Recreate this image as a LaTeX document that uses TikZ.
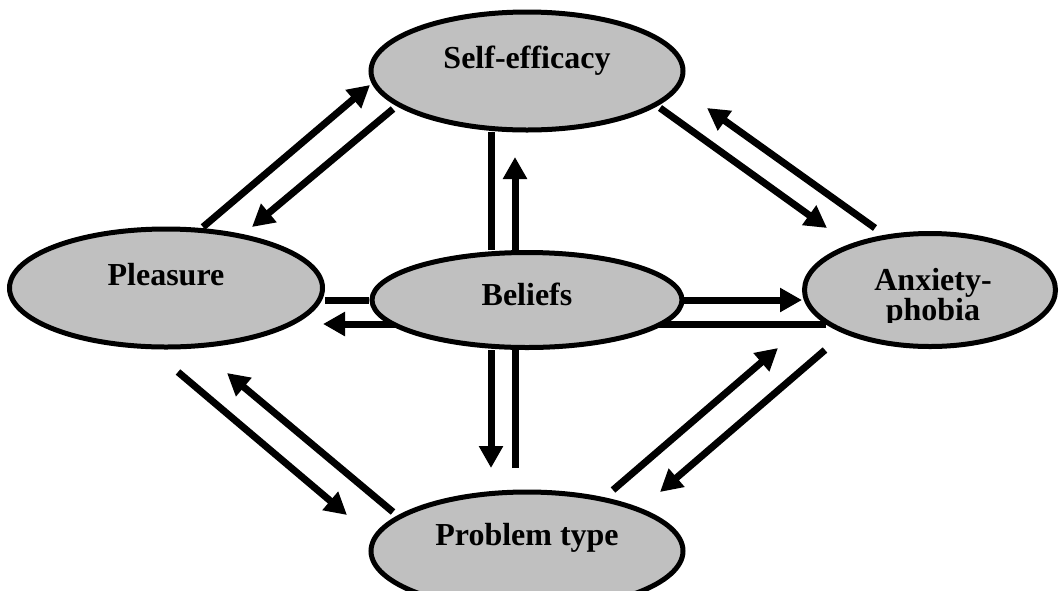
\documentclass[tikz,border=0pt]{standalone}
\usepackage{fontspec}
\setmainfont{Liberation Serif}
\usetikzlibrary{shapes.geometric,arrows.meta,calc}
\pgfdeclarelayer{bg}
\pgfsetlayers{bg,main}
\definecolor{ovalgray}{HTML}{C0C0C0}
\tikzset{
 oval/.style={ellipse, draw=black, line width=5pt, fill=ovalgray, inner sep=0pt},
 lbl/.style={font=\fontsize{32}{32}\selectfont\bfseries, inner sep=0pt, anchor=base},
 conn/.style={line width=7pt},
 arr/.style={conn, -{Triangle[width=23pt,length=22pt]}},
}
\begin{document}
\begin{tikzpicture}[x=1pt,y=-1pt]
\clip (0,0) rectangle (1060,590);
\node[oval, minimum width=312pt, minimum height=118pt] (se) at (527,71) {};
\node[oval, minimum width=313pt, minimum height=118pt] (pl) at (166,288) {};
\node[oval, minimum width=310pt, minimum height=95pt] (be) at (527,300) {};
\node[oval, minimum width=251pt, minimum height=113pt] (ax) at (930,290) {};
\node[oval, minimum width=312pt, minimum height=118pt] (pt) at (527,551) {};

\node[lbl] (seT) at ($(se.center)+(0,-3)$) {Self-efficacy};
\node[lbl] (plT) at ($(pl.center)+(0,-3)$) {Pleasure};
\node[lbl] (beT) at ($(be.center)+(0,5)$) {Beliefs};
\node[lbl] (ptT) at ($(pt.center)+(0,-6)$) {Problem type};
\begin{scope}
\clip (850,240) rectangle (1010,322);
\node[lbl] (axT1) at ($(ax.center)+(3,0)$) {Anxiety-};
\node[lbl] (axT2) at ($(ax.center)+(3,30)$) {phobia};
\end{scope}

\begin{pgfonlayer}{bg}
\draw[arr] ($(pl.center)+(37,-61)$) -- ($(se.center)+(-157,14)$);
\draw[arr] ($(se.center)+(-134,38)$) -- ($(pl.center)+(86,-61)$);
\draw[arr] ($(se.center)+(133,37)$) -- ($(ax.center)+(-103,-62)$);
\draw[arr] ($(ax.center)+(-55,-62)$) -- ($(se.center)+(180,37)$);
\draw[conn] ($(se.center)+(-36,61)$) -- ($(be.center)+(-36,-50)$);
\draw[arr] ($(be.center)+(-12,-50)$) -- ($(se.center)+(-12,86)$);
\draw[arr] ($(be.center)+(-36,50)$) -- ($(pt.center)+(-36,-83)$);
\draw[conn] ($(pt.center)+(-12,-83)$) -- ($(be.center)+(-12,50)$);
\draw[conn] ($(pl.center)+(159,12)$) -- ($(be.center)+(-158,0)$);
\draw[arr] ($(be.center)+(157,0)$) -- ($(ax.center)+(-128,10)$);
\draw[arr] ($(ax.center)+(-104,34)$) -- ($(pl.center)+(157,36)$);
\draw[arr] ($(pl.center)+(12,84)$) -- ($(pt.center)+(-180,-36)$);
\draw[arr] ($(pt.center)+(-134,-39)$) -- ($(pl.center)+(61,85)$);
\draw[arr] ($(pt.center)+(86,-61)$) -- ($(ax.center)+(-152,58)$);
\draw[arr] ($(ax.center)+(-105,60)$) -- ($(pt.center)+(133,-59)$);
\end{pgfonlayer}
\end{tikzpicture}
\end{document}
